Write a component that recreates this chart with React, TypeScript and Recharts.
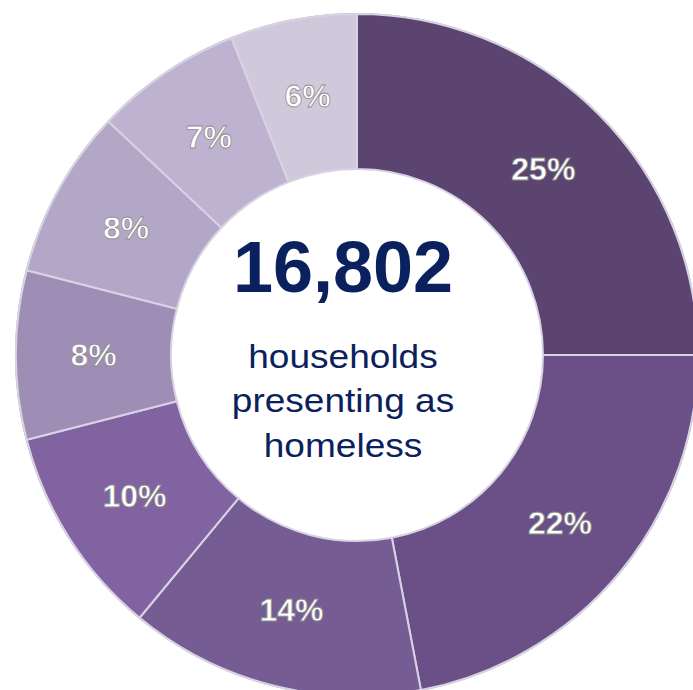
import React from 'react';
import { PieChart, Pie, Cell, Label } from 'recharts';

const categories = ['A', 'B', 'C', 'D', 'E', 'F', 'G', 'H'];
const shares = [25, 22, 14, 10, 8, 8, 7, 6];
const colors = ['#5B4470', '#6A5087', '#755C92', '#8063A0', '#9E8DB5', '#B3A7C7', '#BDB2CF', '#D0C9DC'];
const totalLabel = '16,802';
const subLines = ['households', 'presenting as', 'homeless'];

const data = categories.map((c, i) => ({ name: c, value: shares[i] }));
const ringData = [{ name: 'ring', value: 1 }];

const CX = 352;
const CY = 350;
const RADIAN = Math.PI / 180;

const renderLabel = (props: any) => {
  const { cx, cy, midAngle, innerRadius, outerRadius, value } = props;
  const r = (innerRadius + outerRadius) / 2;
  const x = cx + r * Math.cos(-midAngle * RADIAN);
  const y = cy + r * Math.sin(-midAngle * RADIAN);
  return (
    <text
      x={x}
      y={y}
      fill="#ffffff"
      stroke="#8c8c8c"
      strokeWidth={0.8}
      textAnchor="middle"
      dominantBaseline="central"
      fontFamily="Liberation Sans, Arial, sans-serif"
      fontWeight="bold"
      fontSize={32}
    >
      {value}%
    </text>
  );
};

const CenterContent = () => {
  const tx = CX - 9;
  return (
    <g>
      <text x={tx} y={CY - 58} textAnchor="middle" fill="#0B215E" fontFamily="Liberation Sans, Arial, sans-serif" fontWeight="bold" fontSize={72}>
        {totalLabel}
      </text>
      {subLines.map((t, i) => (
        <text
          key={t}
          x={0}
          y={0}
          transform={`translate(${tx},${CY + 18 + i * 44.3}) scale(1.09,1)`}
          textAnchor="middle"
          fill="#0B215E"
          fontFamily="Liberation Sans, Arial, sans-serif"
          fontSize={34}
        >
          {t}
        </text>
      ))}
    </g>
  );
};

export default function App() {
  return (
    <div style={{ position: 'absolute', left: 0, top: 0, width: 693, height: 690, background: '#fff' }}>
      <PieChart width={693} height={690}>
        <Pie
          data={ringData}
          dataKey="value"
          cx={CX}
          cy={CY}
          innerRadius={340}
          outerRadius={342}
          fill="#aaaaaa"
          stroke="none"
          isAnimationActive={false}
        />
        <Pie
          data={data}
          dataKey="value"
          cx={CX}
          cy={CY}
          startAngle={90}
          endAngle={-270}
          innerRadius={186}
          outerRadius={341}
          stroke="#D9D2E4"
          strokeWidth={2}
          labelLine={false}
          label={renderLabel}
          isAnimationActive={false}
        >
          {data.map((d, i) => (
            <Cell key={d.name} fill={colors[i]} />
          ))}
          <Label position="center" content={<CenterContent />} />
        </Pie>
      </PieChart>
    </div>
  );
}
